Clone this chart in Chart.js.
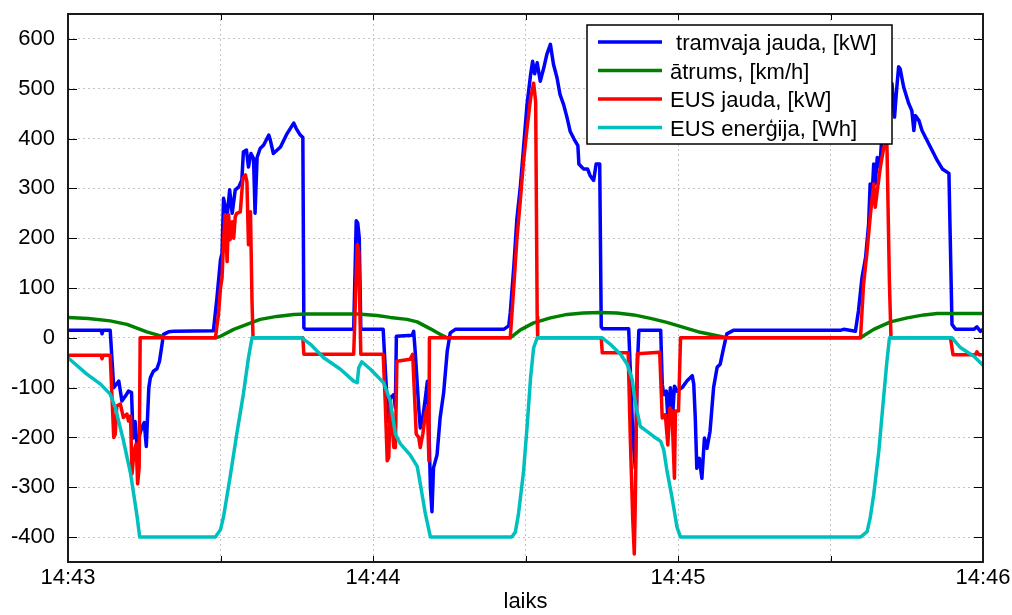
<!DOCTYPE html>
<html>
<head>
<meta charset="utf-8">
<title>EUS</title>
<script src="https://cdn.jsdelivr.net/npm/chart.js@4.4.0/dist/chart.umd.min.js"></script>
<style>
  html, body { margin: 0; padding: 0; background: #fff; }
  canvas { display: block; }
</style>
</head>
<body>
<canvas id="powerChart" width="1012" height="615"></canvas>
<script>
// [seconds after 14:43:00, value]
const tramPower = [
  [0, 15], [6.5, 15], [6.7, 8], [6.9, 15], [8.3, 15], [9.0, -100], [10.0, -87], [10.6, -127], [11.3, -117],
  [11.9, -107], [12.5, -110], [12.8, -201], [13.2, -168], [13.6, -221], [14.1, -194], [14.6, -178], [15.0, -170],
  [15.4, -218], [15.9, -100], [16.2, -80], [16.8, -67], [17.5, -62], [18.0, -47], [18.5, -13], [18.8, 7],
  [19.8, 12], [20.8, 13], [28.6, 14], [29.3, 80], [30.0, 157], [30.3, 170], [30.6, 280], [31.3, 243],
  [31.8, 297], [32.3, 250], [32.9, 297], [33.6, 303], [34.2, 317], [34.5, 373], [35.1, 377], [35.5, 343],
  [36.0, 370], [36.5, 360], [36.8, 250], [37.2, 362], [37.8, 380], [38.5, 387], [39.5, 407], [39.8, 397],
  [40.4, 370], [41.8, 383], [43.1, 410], [44.4, 431], [44.9, 420], [45.7, 407], [46.2, 402], [46.4, 20],
  [46.7, 17], [56.2, 17], [56.7, 235], [57.0, 230], [57.3, 200], [57.6, 17], [62.0, 17], [62.4, -60],
  [63.0, -168], [63.4, -121], [64.1, -114], [64.4, -140], [64.6, 3], [67.7, 5], [68.0, 13], [68.3, -27],
  [69.0, -141], [69.3, -181], [69.8, -160], [70.3, -121], [70.7, -87], [70.9, -141], [71.3, -302],
  [71.6, -349], [71.9, -261], [72.6, -235], [73.2, -161], [73.9, -110], [74.6, -27], [75.2, 10], [76.2, 17],
  [85.7, 17], [86.7, 24], [87.0, 50], [87.7, 143], [88.3, 238], [89.0, 305], [89.6, 380], [90.3, 468],
  [91.0, 528], [91.4, 555], [91.8, 530], [92.3, 552], [92.9, 515], [93.6, 542], [94.2, 569], [94.9, 589],
  [95.5, 549], [96.2, 522], [96.8, 488], [97.5, 468], [98.2, 441], [98.8, 414], [99.5, 400], [100.3, 386],
  [100.5, 349], [101.4, 339], [102.2, 339], [102.7, 326], [103.4, 316], [103.9, 349], [104.6, 349],
  [104.9, 22], [105.2, 18], [110.3, 18], [110.6, -59], [111.1, -195], [111.6, -262], [112.0, -59], [112.3, 15],
  [116.6, 15], [116.9, -93], [117.2, -114], [117.7, -107], [118.0, -161], [118.5, -100], [119.0, -147],
  [119.3, -97], [119.8, -107], [120.8, -100], [121.8, -86], [122.8, -76], [123.1, -93], [123.4, -161],
  [123.7, -262], [124.2, -242], [124.7, -282], [125.2, -201], [125.7, -222], [126.3, -188], [127.0, -100],
  [127.7, -59], [128.3, -53], [129.0, -19], [129.6, 8], [130.9, 15], [151.9, 15], [152.6, 17], [154.9, 13],
  [155.5, 54], [156.2, 121], [156.9, 161], [157.5, 228], [157.8, 309], [158.2, 289], [158.5, 349],
  [158.8, 309], [159.2, 362], [159.7, 342], [160.1, 403], [160.8, 443], [161.4, 490], [162.1, 510],
  [162.6, 443], [163.0, 497], [163.4, 544], [163.7, 540], [164.4, 503], [165.4, 470], [166.0, 456],
  [166.4, 416], [166.7, 446], [167.4, 436], [168.0, 416], [169.0, 396], [170.0, 376], [171.0, 356],
  [172.0, 339], [173.3, 330], [173.5, 228], [173.9, 27], [174.6, 17], [178.2, 17], [178.8, 22], [179.5, 13],
  [180, 17]
];

const speed = [
  [0, 41], [4, 39], [8.3, 34], [11.6, 27], [12.9, 22], [15.5, 12], [18.2, 4], [19.5, 0], [29.0, 0], [30.0, 3],
  [32.6, 17], [35.2, 27], [37.8, 37], [41.1, 43], [44.4, 47], [47, 48], [57, 48], [60.8, 45], [63.4, 41],
  [66.7, 37], [68.7, 32], [71.3, 18], [73.2, 7], [74.6, 0], [87.0, 0], [89.0, 16], [91.6, 30], [94.9, 40],
  [98.2, 47], [101.4, 50], [104.7, 51], [108.0, 50], [111.3, 46], [114.6, 39], [117.8, 31], [121.1, 21],
  [124.4, 11], [127.7, 4], [129.6, 0], [155.9, 0], [158.5, 17], [161.8, 32], [165.1, 40], [168.4, 46],
  [171.0, 49], [180, 49]
];

const eusPower = [
  [0, -35], [6.5, -35], [6.7, -42], [6.9, -35], [8.3, -35], [9.0, -200], [9.3, -193], [9.6, -137], [10.3, -133],
  [10.9, -160], [11.6, -153], [11.9, -167], [12.3, -157], [12.6, -273], [13.0, -227], [13.4, -213],
  [13.7, -293], [14.0, -260], [14.2, 0], [29.0, 0], [29.6, 47], [30.0, 100], [30.3, 120], [30.6, 193],
  [30.9, 247], [31.3, 153], [31.6, 247], [31.9, 197], [32.3, 233], [32.6, 200], [32.9, 243], [33.2, 250],
  [33.9, 253], [34.4, 320], [34.9, 327], [35.2, 313], [35.5, 187], [35.9, 253], [36.2, 73], [36.4, 0],
  [46.2, 0], [46.4, -33], [56.2, -33], [56.9, 187], [57.2, 173], [57.6, -33], [62.0, -33], [62.4, -127],
  [62.8, -247], [63.1, -240], [63.4, -127], [64.1, -220], [64.4, -220], [64.7, -47], [67.3, -43],
  [67.8, -33], [68.1, -100], [68.5, -193], [69.0, -200], [69.3, -220], [69.8, -193], [70.3, -153],
  [70.7, -140], [71.0, -247], [71.1, 0], [87.0, 0], [87.7, 103], [88.3, 197], [89.0, 278], [89.6, 353],
  [90.3, 420], [91.0, 481], [91.6, 511], [92.0, 474], [92.3, 42], [92.4, 0], [104.9, 0], [105.1, -30],
  [110.2, -30], [110.6, -195], [111.1, -364], [111.4, -434], [111.6, -330], [112.0, -32], [116.4, -29],
  [116.9, -161], [117.5, -154], [118.0, -215], [118.4, -141], [118.8, -147], [119.3, -282], [119.5, -147],
  [120.1, -147], [120.5, 0], [155.9, 0], [156.5, 107], [157.2, 174], [157.8, 242], [158.5, 309],
  [158.8, 262], [159.2, 295], [159.8, 342], [160.5, 383], [161.1, 389], [161.6, 107], [161.9, 0],
  [173.6, 0], [174.1, -34], [178.5, -34], [178.8, -28], [179.2, -34], [180, -34]
];

const eusEnergy = [
  [0, -40], [3.7, -73], [6.4, -93], [8.3, -113], [9.3, -140], [10.9, -206], [12.3, -272], [12.9, -312],
  [13.6, -359], [14.1, -400], [29.0, -400], [30.0, -385], [30.6, -359], [31.9, -279], [33.2, -193],
  [34.5, -113], [35.5, -40], [36.2, 0], [46.0, 0], [47.7, -13], [50.3, -40], [53.6, -63], [56.2, -87],
  [56.9, -90], [57.2, -60], [57.8, -48], [59.5, -63], [62.1, -90], [63.4, -127], [64.4, -193], [65.4, -213],
  [67.3, -235], [68.7, -258], [69.3, -293], [70.3, -353], [71.3, -400], [87.3, -400], [88.0, -390],
  [88.6, -355], [89.6, -270], [90.3, -180], [91.0, -80], [91.6, -20], [92.3, 0], [105.1, 0], [106.7, -13],
  [108.7, -33], [110.0, -53], [111.0, -84], [111.6, -131], [112.6, -178], [113.9, -188], [115.2, -198],
  [116.6, -208], [117.2, -225], [117.8, -265], [118.8, -319], [119.8, -380], [120.5, -400], [155.9, -400],
  [157.2, -389], [157.8, -362], [158.5, -315], [159.5, -228], [160.5, -114], [161.1, -47], [161.6, 0],
  [173.9, 0], [175.6, -20], [178.2, -37], [180, -55]
];

const seriesLabels = [" tramvaja jauda, [kW]", "ātrums, [km/h]", "EUS jauda, [kW]", "EUS enerģija, [Wh]"];
const seriesColors = ["#0000ff", "#008000", "#ff0000", "#00bfbf"];

const xTickSeconds = [0, 30, 60, 90, 120, 150, 180];
const xTickLabels = ["14:43", "", "14:44", "", "14:45", "", "14:46"];
const yTickValues = [-400, -300, -200, -100, 0, 100, 200, 300, 400, 500, 600];

const FONT = "'Liberation Sans', Arial, Helvetica, sans-serif";

// box around the axes, inward tick marks and the legend panel
const axesBox = {
  id: "axesBox",
  afterDatasetsDraw(chart) {
    const { ctx, chartArea: a, scales: { x, y } } = chart;
    ctx.save();
    ctx.strokeStyle = "#000";
    ctx.lineWidth = 1;
    ctx.beginPath();
    yTickValues.forEach(v => {
      const py = Math.round(y.getPixelForValue(v)) + 0.5;
      ctx.moveTo(a.left, py); ctx.lineTo(a.left + 9, py);
      ctx.moveTo(a.right, py); ctx.lineTo(a.right - 9, py);
    });
    xTickSeconds.forEach(v => {
      const px = Math.round(x.getPixelForValue(v)) + 0.5;
      ctx.moveTo(px, a.bottom); ctx.lineTo(px, a.bottom - 6);
      ctx.moveTo(px, a.top); ctx.lineTo(px, a.top + 6);
    });
    ctx.stroke();

    ctx.lineWidth = 2;
    ctx.strokeStyle = "#1a1a1a";
    ctx.strokeRect(a.left, a.top, a.right - a.left, a.bottom - a.top);

    // legend
    const lw = 305, lh = 119;
    const lx = a.right - 91 - lw, ly = a.top + 11;
    ctx.fillStyle = "#fff";
    ctx.fillRect(lx, ly, lw, lh);
    ctx.lineWidth = 1.5;
    ctx.strokeStyle = "#000";
    ctx.strokeRect(lx, ly, lw, lh);
    ctx.font = "22px " + FONT;
    ctx.textBaseline = "middle";
    ctx.textAlign = "left";
    chart.data.datasets.forEach((ds, i) => {
      const rowY = ly + 17 + i * 28.5;
      ctx.strokeStyle = ds.borderColor;
      ctx.lineWidth = 3.5;
      ctx.beginPath();
      ctx.moveTo(lx + 11, rowY);
      ctx.lineTo(lx + 75, rowY);
      ctx.stroke();
      ctx.fillStyle = "#000";
      ctx.fillText(ds.label, lx + 83, rowY + 2);
    });
    ctx.restore();
  }
};

const seriesData = [tramPower, speed, eusPower, eusEnergy];

new Chart(document.getElementById("powerChart"), {
  type: "line",
  data: {
    datasets: seriesData.map((pts, i) => ({
      label: seriesLabels[i],
      data: pts.map(([t, v]) => ({ x: t, y: v })),
      borderColor: seriesColors[i],
      borderWidth: 3.5,
      borderJoinStyle: "round",
      pointRadius: 0,
      tension: 0,
      fill: false,
      order: seriesData.length - i // later series on top
    }))
  },
  options: {
    responsive: false,
    animation: false,
    devicePixelRatio: 1,
    events: [],
    layout: { padding: { top: 14, right: 29, left: 0, bottom: 0 } },
    plugins: {
      legend: { display: false },
      tooltip: { enabled: false }
    },
    scales: {
      x: {
        type: "linear",
        min: 0,
        max: 180,
        afterBuildTicks: s => { s.ticks = xTickSeconds.map(v => ({ value: v })); },
        afterFit: s => { s.height = 53; s.paddingLeft = 0; s.paddingRight = 0; },
        ticks: {
          autoSkip: false,
          maxRotation: 0,
          padding: 3,
          color: "#000",
          font: { family: FONT, size: 22 },
          callback: (v, i) => xTickLabels[i]
        },
        grid: { color: "#c4c4c4", lineWidth: 1, drawTicks: false },
        border: { display: false, dash: [2, 3] },
        title: {
          display: true,
          text: "laiks",
          color: "#000",
          font: { family: FONT, size: 22 },
          padding: { top: 0, bottom: 0 }
        }
      },
      y: {
        min: -450,
        max: 650,
        afterBuildTicks: s => { s.ticks = yTickValues.map(v => ({ value: v })); },
        afterFit: s => { s.width = 68; s.paddingTop = 0; s.paddingBottom = 0; },
        ticks: {
          padding: 13,
          color: "#000",
          font: { family: FONT, size: 22 },
          callback: v => String(v)
        },
        grid: { color: "#c4c4c4", lineWidth: 1, drawTicks: false },
        border: { display: false, dash: [2, 3] }
      }
    }
  },
  plugins: [axesBox]
});
</script>
</body>
</html>
